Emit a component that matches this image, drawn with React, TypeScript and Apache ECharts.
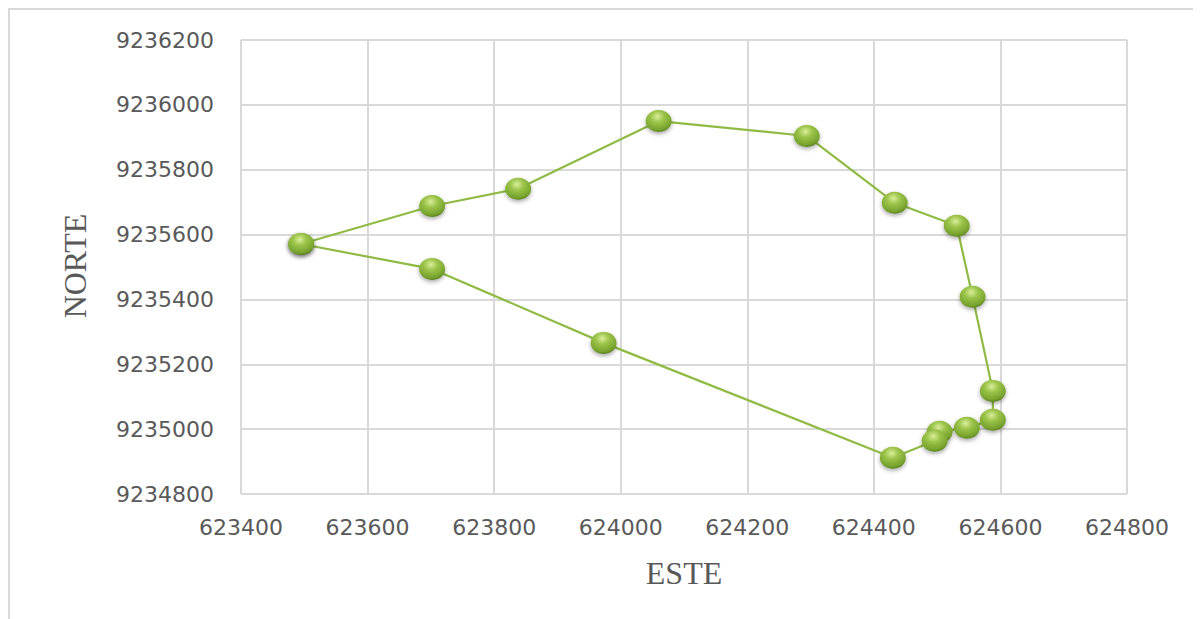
import React, { useEffect, useRef } from "react";
import * as echarts from "echarts";

const esteValues = [623495, 623702, 623838, 624060, 624294, 624433, 624531, 624556, 624588, 624588, 624547, 624504, 624496, 624430, 623973, 623702, 623495];
const norteValues = [9235571, 9235688, 9235741, 9235950, 9235904, 9235698, 9235627, 9235408, 9235118, 9235029, 9235004, 9234992, 9234964, 9234912, 9235266, 9235494, 9235571];
const xTitle = "ESTE";
const yTitle = "NORTE";

export default function App() {
  const ref = useRef<HTMLDivElement>(null);
  useEffect(() => {
    if (!ref.current) return;
    const chart = echarts.init(ref.current, null, { renderer: "svg" });
    const data = esteValues.map((x, i) => [x, norteValues[i]]);
    const labelStyle = {
      color: "#595959",
      fontFamily: "DejaVu Sans",
      fontSize: 22,
      formatter: (v: number) => String(v),
    };
    chart.setOption({
      animation: false,
      backgroundColor: "#ffffff",
      grid: { left: 233, top: 32, width: 886, height: 454 },
      xAxis: {
        type: "value",
        min: 623400,
        max: 624800,
        interval: 200,
        axisLine: { show: false },
        axisTick: { show: false },
        axisLabel: { ...labelStyle, margin: 22 },
        splitLine: { show: true, lineStyle: { color: "#d9d9d9", width: 2 } },
      },
      yAxis: {
        type: "value",
        min: 9234800,
        max: 9236200,
        interval: 200,
        axisLine: { show: false },
        axisTick: { show: false },
        axisLabel: { ...labelStyle, margin: 27 },
        splitLine: { show: true, lineStyle: { color: "#d9d9d9", width: 2 } },
      },
      graphic: [
        { type: "line", shape: { x1: 0, y1: 1, x2: 1185, y2: 1 }, style: { stroke: "#d9d9d9", lineWidth: 2 } },
        { type: "line", shape: { x1: 1, y1: 0, x2: 1, y2: 615 }, style: { stroke: "#d9d9d9", lineWidth: 2 } },
        {
          type: "text",
          x: 67,
          y: 258,
          rotation: Math.PI / 2,
          style: { text: yTitle, fill: "#595959", font: "32px 'Liberation Serif'", align: "center", verticalAlign: "middle" },
        },
        {
          type: "text",
          x: 676,
          y: 565,
          style: { text: xTitle, fill: "#595959", font: "32px 'Liberation Serif'", align: "center", verticalAlign: "middle" },
        },
      ],
      series: [
        {
          type: "line",
          data,
          symbol: "circle",
          symbolSize: [26, 22],
          showSymbol: true,
          lineStyle: { color: "#8fbb44", width: 2.2 },
          itemStyle: {
            color: {
              type: "radial",
              x: 0.45,
              y: 0.3,
              r: 0.75,
              colorStops: [
                { offset: 0, color: "#d8ee9a" },
                { offset: 0.35, color: "#9cc44a" },
                { offset: 0.8, color: "#76a22c" },
                { offset: 1, color: "#4e6e18" },
              ],
            },
            borderWidth: 0,
            shadowBlur: 4,
            shadowColor: "rgba(0,0,0,0.35)",
            shadowOffsetY: 2,
          },
        },
      ],
    });
    return () => chart.dispose();
  }, []);
  return <div ref={ref} style={{ width: 1187, height: 611 }} />;
}
